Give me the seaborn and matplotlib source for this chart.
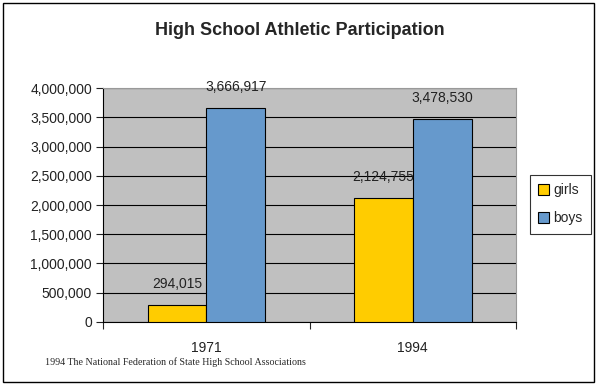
import pandas as pd
import matplotlib.pyplot as plt
import seaborn as sns
from matplotlib.ticker import FuncFormatter, FixedLocator
from matplotlib.patches import Rectangle

# Data
years = ['1971', '1994']
girls = [294015, 2124755]
boys = [3666917, 3478530]

df = pd.DataFrame({
    'Year': years * 2,
    'Group': ['girls'] * 2 + ['boys'] * 2,
    'Participants': girls + boys,
})

sns.set_style('white')
plt.rcParams['font.family'] = ['Liberation Sans', 'DejaVu Sans']

fig = plt.figure(figsize=(6, 3.85), dpi=100)
ax = fig.add_axes([0.172, 0.164, 0.688, 0.607])
ax.set_facecolor('#C0C0C0')

sns.barplot(data=df, x='Year', y='Participants', hue='Group',
            palette={'girls': '#FFCC00', 'boys': '#6699CC'}, saturation=1,
            width=0.57, edgecolor='black', linewidth=0.8, ax=ax, zorder=3)

# Value labels above each bar
for container in ax.containers:
    for bar in container:
        h = bar.get_height()
        ax.annotate(f'{h:,.0f}', (bar.get_x() + bar.get_width() / 2, h),
                    xytext=(0, 10), textcoords='offset points',
                    ha='center', va='bottom', fontsize=10, color='#222222')

ax.set_ylim(0, 4000000)
ax.set_xlim(-0.5, 1.5)
ax.set_yticks(range(0, 4000001, 500000))
ax.yaxis.set_major_formatter(FuncFormatter(lambda v, _: f'{v:,.0f}'))
ax.yaxis.grid(True, color='black', linewidth=0.8, zorder=0)
ax.set_axisbelow(True)

ax.tick_params(axis='y', left=True, length=5, width=0.8, labelsize=10, pad=3, colors='#222222')
ax.tick_params(axis='x', which='major', length=0, labelsize=10, pad=14, colors='#222222')
ax.xaxis.set_minor_locator(FixedLocator([-0.5, 0.5, 1.5]))
ax.tick_params(axis='x', which='minor', bottom=True, length=5, width=0.8)

ax.set_xlabel('')
ax.set_ylabel('')
for side in ['top', 'right']:
    ax.spines[side].set_color('#999999')
    ax.spines[side].set_linewidth(0.8)
for side in ['left', 'bottom']:
    ax.spines[side].set_color('black')
    ax.spines[side].set_linewidth(0.8)

leg = ax.legend(loc='center left', bbox_to_anchor=(0.883, 0.469), bbox_transform=fig.transFigure,
                frameon=True, fancybox=False, edgecolor='black', fontsize=10,
                handlelength=0.8, handleheight=0.8, handletextpad=0.3, labelspacing=1.0,
                borderpad=0.6, borderaxespad=0)
leg.get_frame().set_linewidth(0.8)

fig.text(0.5, 0.92, 'High School Athletic Participation', ha='center', va='center',
         fontsize=13, fontweight='bold')
fig.text(0.075, 0.06, '1994 The National Federation of State High School Associations',
         ha='left', va='center', fontsize=7.2, family=['Liberation Serif', 'DejaVu Serif'])

# Outer frame around the chart area
fig.patches.append(Rectangle((0.005, 0.008), 0.985, 0.984, transform=fig.transFigure,
                             fill=False, edgecolor='black', linewidth=1.0))

plt.savefig('out.png', dpi=100)
